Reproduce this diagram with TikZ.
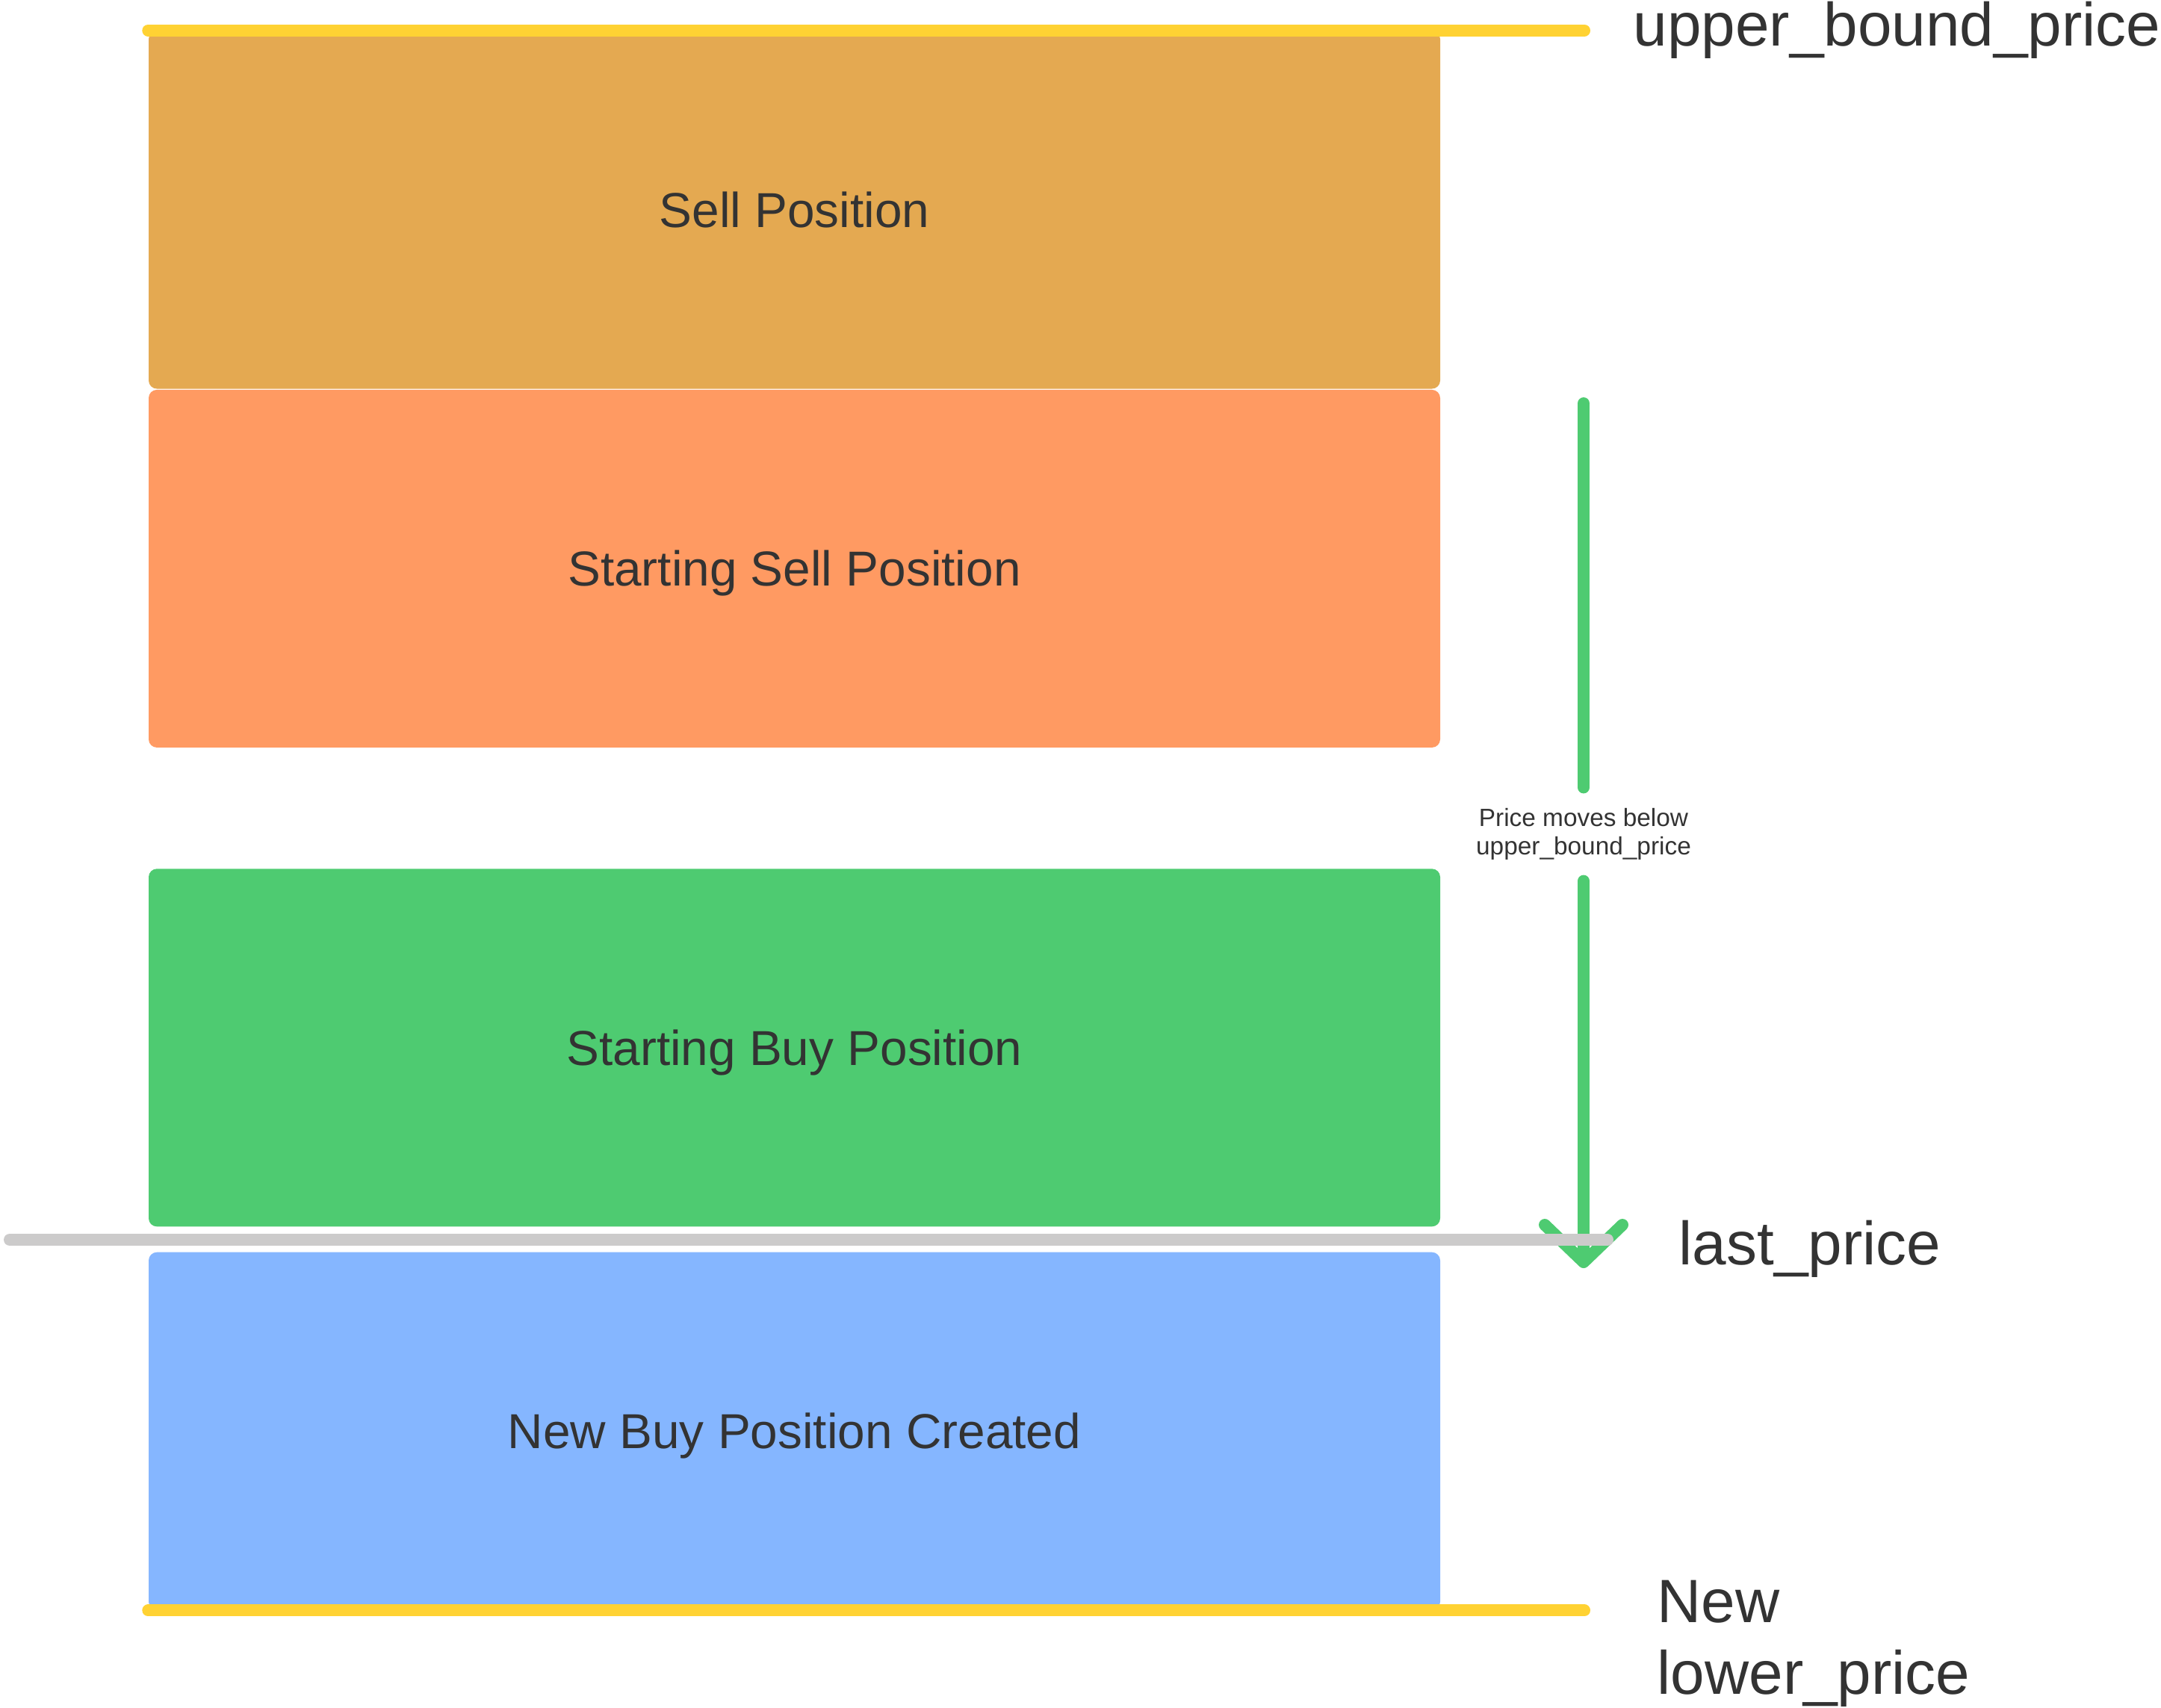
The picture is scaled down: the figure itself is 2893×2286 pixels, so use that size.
\documentclass[tikz,border=0pt]{standalone}
\usepackage{fontspec}
\setmainfont{Liberation Sans}
\usetikzlibrary{positioning}
\usetikzlibrary{arrows.meta}

\definecolor{sellcol}{HTML}{E4A951}
\definecolor{startsellcol}{HTML}{FF9A62}
\definecolor{buycol}{HTML}{4ECB71}
\definecolor{newbuycol}{HTML}{85B6FF}
\definecolor{boundcol}{HTML}{FFD233}
\definecolor{lastcol}{HTML}{CCCBCB}
\definecolor{inkcol}{HTML}{333333}

\begin{document}
\begin{tikzpicture}[x=0.1mm, y=-0.1mm,
				   every node/.style={text=inkcol, inner sep=0pt},
				   posbox/.style={rounded corners=1.1mm, minimum width=172.9mm, minimum height=47.9mm, font=\fontsize{18.7}{23}\selectfont, text height=13.4pt, text depth=0pt},
				   bound/.style={draw=boundcol, line width=1.6mm, line cap=round},
				   lastline/.style={draw=lastcol, line width=1.6mm, line cap=round},
				   pricemove/.style={draw=buycol, line width=1.6mm, line cap=round},
				   pricelabel/.style={anchor=base west, font=\fontsize{23.3}{27.3}\selectfont}]
\useasboundingbox (0,0) rectangle (2893,2286);

\node[posbox, fill=sellcol] (sell) at (1063.5,281) {Sell Position};
\node[posbox, fill=startsellcol, below=0pt of sell] (startsell) {Starting Sell Position};
\node[posbox, fill=buycol, below=16.1mm of startsell] (buy) {Starting Buy Position};
\node[posbox, fill=newbuycol, below=3.3mm of buy] (newbuy) {New Buy Position Created};

\coordinate (ubend) at (2121,41);
\coordinate (lbend) at (2121,2154);
\draw[bound] (sell.north west) -- (sell.north west -| ubend);
\draw[bound] (newbuy.south west) -- (newbuy.south west -| lbend);

\node[pricelabel] (ubp) at (2186,61) {upper\_bound\_price};
\node[pricelabel] (lastp) at (2247,1693) {last\_price};
\node[pricelabel, anchor=north west, align=left] (lowp) at (2218,2115) {New\\lower\_price};

% price drop
\coordinate (movestart) at (2120,540);
\coordinate (movetip) at (2120,1698);
\node[font=\fontsize{9.5}{11}\selectfont, align=center, inner ysep=2.7mm] (movelbl) at (2120,1117) {Price moves below\\upper\_bound\_price};
\draw[pricemove] (movestart) -- (movelbl.north);
\draw[pricemove, -{Straight Barb[length=5mm, width=10.4mm, round]}] (movelbl.south) -- (movetip);

\coordinate (lastwest) at (13,1660);
\coordinate (lasteast) at (2152,1660);
\draw[lastline] (lastwest) -- (lasteast);
\end{tikzpicture}
\end{document}
